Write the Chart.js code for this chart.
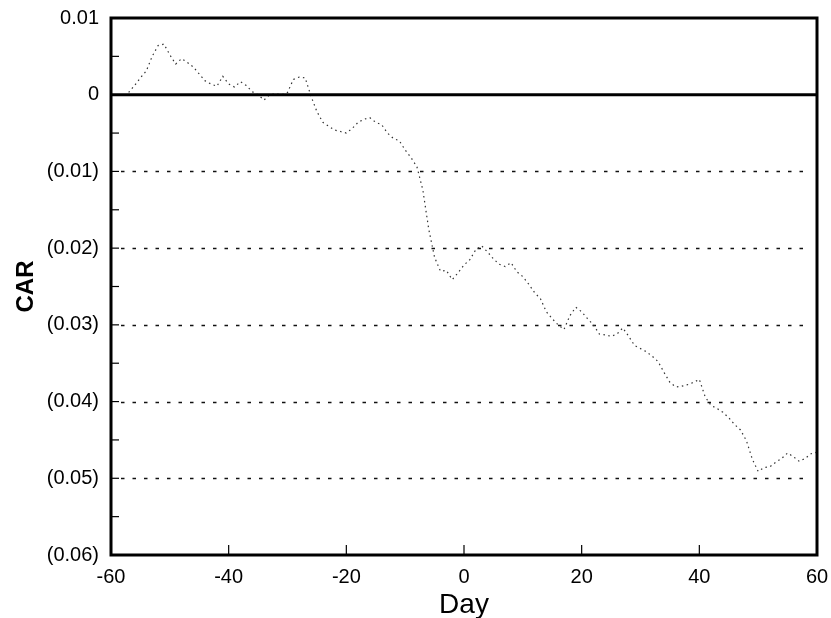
<!DOCTYPE html>
<html>
<head>
<meta charset="utf-8">
<script src="https://cdn.jsdelivr.net/npm/chart.js@4.4.1/dist/chart.umd.min.js"></script>
<style>
    html, body { margin: 0; padding: 0; background: #fff; }
    #wrap { width: 831px; height: 618px; }
</style>
</head>
<body>
<div id="wrap"><canvas id="car"></canvas></div>
<script>
// ── Data ──
const days = [
    -57, -56, -55, -54, -53, -52, -51, -50, -49, -48, -47, -46, -45, -44, -43, -42, -41, -40, -39, -38,
    -37, -36, -35, -34, -33, -32, -31, -30, -29, -28, -27, -26, -25, -24, -23, -22, -21, -20, -19, -18,
    -17, -16, -15, -14, -13, -12, -11, -10, -9, -8, -7, -6, -5, -4, -3, -2, -1, 0, 1, 2,
    3, 4, 5, 6, 7, 8, 9, 10, 11, 12, 13, 14, 15, 16, 17, 18, 19, 20, 21, 22,
    23, 24, 25, 26, 27, 28, 29, 30, 31, 32, 33, 34, 35, 36, 37, 38, 39, 40, 41, 42,
    43, 44, 45, 46, 47, 48, 49, 50, 51, 52, 53, 54, 55, 56, 57, 58, 59, 60
];
const car = [
    0.0003, 0.0012, 0.0022, 0.0031, 0.0050, 0.0064, 0.0066, 0.0052, 0.0040, 0.0047,
    0.0042, 0.0036, 0.0027, 0.0018, 0.0014, 0.0011, 0.0024, 0.0014, 0.0010, 0.0017,
    0.0012, 0.0004, 0.0000, -0.0007, 0.0000, 0.0001, 0.0000, 0.0003, 0.0020, 0.0023,
    0.0022, -0.0002, -0.0022, -0.0036, -0.0041, -0.0046, -0.0048, -0.0050, -0.0044, -0.0036,
    -0.0032, -0.0030, -0.0036, -0.0039, -0.0050, -0.0057, -0.0060, -0.0072, -0.0082, -0.0094,
    -0.0124, -0.0175, -0.0212, -0.0230, -0.0229, -0.0241, -0.0232, -0.0222, -0.0215, -0.0202,
    -0.0197, -0.0205, -0.0214, -0.0221, -0.0224, -0.0219, -0.0231, -0.0237, -0.0247, -0.0258,
    -0.0266, -0.0283, -0.0292, -0.0300, -0.0306, -0.0288, -0.0277, -0.0283, -0.0292, -0.0300,
    -0.0312, -0.0313, -0.0315, -0.0312, -0.0304, -0.0315, -0.0327, -0.0331, -0.0335, -0.0341,
    -0.0348, -0.0362, -0.0375, -0.0381, -0.0380, -0.0378, -0.0375, -0.0371, -0.0394, -0.0405,
    -0.0409, -0.0414, -0.0421, -0.0430, -0.0437, -0.0451, -0.0475, -0.0491, -0.0486, -0.0485,
    -0.0479, -0.0474, -0.0467, -0.0472, -0.0478, -0.0474, -0.0468, -0.0466
];
const dottedLevels = [-0.01, -0.02, -0.03, -0.04, -0.05];
const xMajorTicks = [-40, -20, 0, 20, 40];

const FONT = "'Liberation Sans', Arial, sans-serif";

// y label: negatives shown in parentheses
function carLabel(v) {
    const m = Math.round(v * 1000);
    if (m % 10 !== 0) return '';
    if (m === 0) return '0';
    const s = (Math.abs(m) / 1000).toFixed(2);
    return m < 0 ? `(${s})` : s;
}

// Frame, inward ticks, dotted guides and zero line
const framePlugin = {
    id: 'frame',
    beforeDatasetsDraw(chart) {
        const { ctx, chartArea: a, scales: { y } } = chart;
        ctx.save();
        ctx.strokeStyle = '#111';
        ctx.lineWidth = 1.4;
        ctx.setLineDash([3.5, 8]);
        dottedLevels.forEach(v => {
            const py = Math.round(y.getPixelForValue(v)) + 0.5;
            ctx.beginPath();
            ctx.moveTo(a.left + 10, py);
            ctx.lineTo(a.right - 8, py);
            ctx.stroke();
        });
        ctx.restore();
    },
    afterDatasetsDraw(chart) {
        const { ctx, chartArea: a, scales: { x, y } } = chart;
        ctx.save();
        ctx.strokeStyle = '#000';
        // zero line
        ctx.lineWidth = 3;
        const y0 = y.getPixelForValue(0);
        ctx.beginPath();
        ctx.moveTo(a.left, y0);
        ctx.lineTo(a.right, y0);
        ctx.stroke();
        // inward ticks on left axis
        ctx.lineWidth = 1.2;
        y.ticks.forEach(t => {
            const py = y.getPixelForValue(t.value);
            ctx.beginPath();
            ctx.moveTo(a.left, py);
            ctx.lineTo(a.left + 8, py);
            ctx.stroke();
        });
        // inward ticks on bottom axis
        xMajorTicks.forEach(v => {
            const px = x.getPixelForValue(v);
            ctx.beginPath();
            ctx.moveTo(px, a.bottom);
            ctx.lineTo(px, a.bottom - 10);
            ctx.stroke();
        });
        // frame
        ctx.lineWidth = 3;
        ctx.strokeRect(a.left, a.top, a.right - a.left, a.bottom - a.top);
        ctx.restore();
    }
};

new Chart(document.getElementById('car'), {
    type: 'line',
    data: {
        labels: days,
        datasets: [{
            data: days.map((d, i) => ({ x: d, y: car[i] })),
            borderColor: '#333',
            borderWidth: 1.2,
            borderDash: [1.5, 3.5],
            pointRadius: 0,
            tension: 0,
            fill: false,
        }]
    },
    options: {
        responsive: true,
        maintainAspectRatio: false,
        animation: false,
        layout: { padding: { top: 18, right: 14, bottom: 0, left: 0 } },
        plugins: { legend: { display: false }, tooltip: { enabled: false } },
        scales: {
            x: {
                type: 'linear',
                min: -60,
                max: 60,
                grid: { display: false, drawTicks: false },
                border: { display: false },
                ticks: {
                    stepSize: 20,
                    padding: 10,
                    color: '#000',
                    font: { family: FONT, size: 20 },
                    maxRotation: 0,
                },
                title: {
                    display: true,
                    text: 'Day',
                    color: '#000',
                    font: { family: FONT, size: 28 },
                    padding: { top: 2, bottom: -4 },
                },
                afterFit(s) {
                    s.height = 63;
                    s.paddingLeft = 0;
                    s.paddingRight = 0;
                },
            },
            y: {
                min: -0.06,
                max: 0.01,
                grid: { display: false, drawTicks: false },
                border: { display: false },
                ticks: {
                    stepSize: 0.005,
                    padding: 12,
                    autoSkip: false,
                    color: '#000',
                    font: { family: FONT, size: 20 },
                    callback: v => carLabel(v),
                },
                title: {
                    display: true,
                    text: 'CAR',
                    color: '#000',
                    font: { family: FONT, size: 24, weight: 'bold' },
                    padding: { top: 12, bottom: 0 },
                },
                afterFit(s) {
                    s.width = 111;
                    s.paddingTop = 0;
                    s.paddingBottom = 0;
                },
            },
        },
    },
    plugins: [framePlugin],
});
</script>
</body>
</html>
